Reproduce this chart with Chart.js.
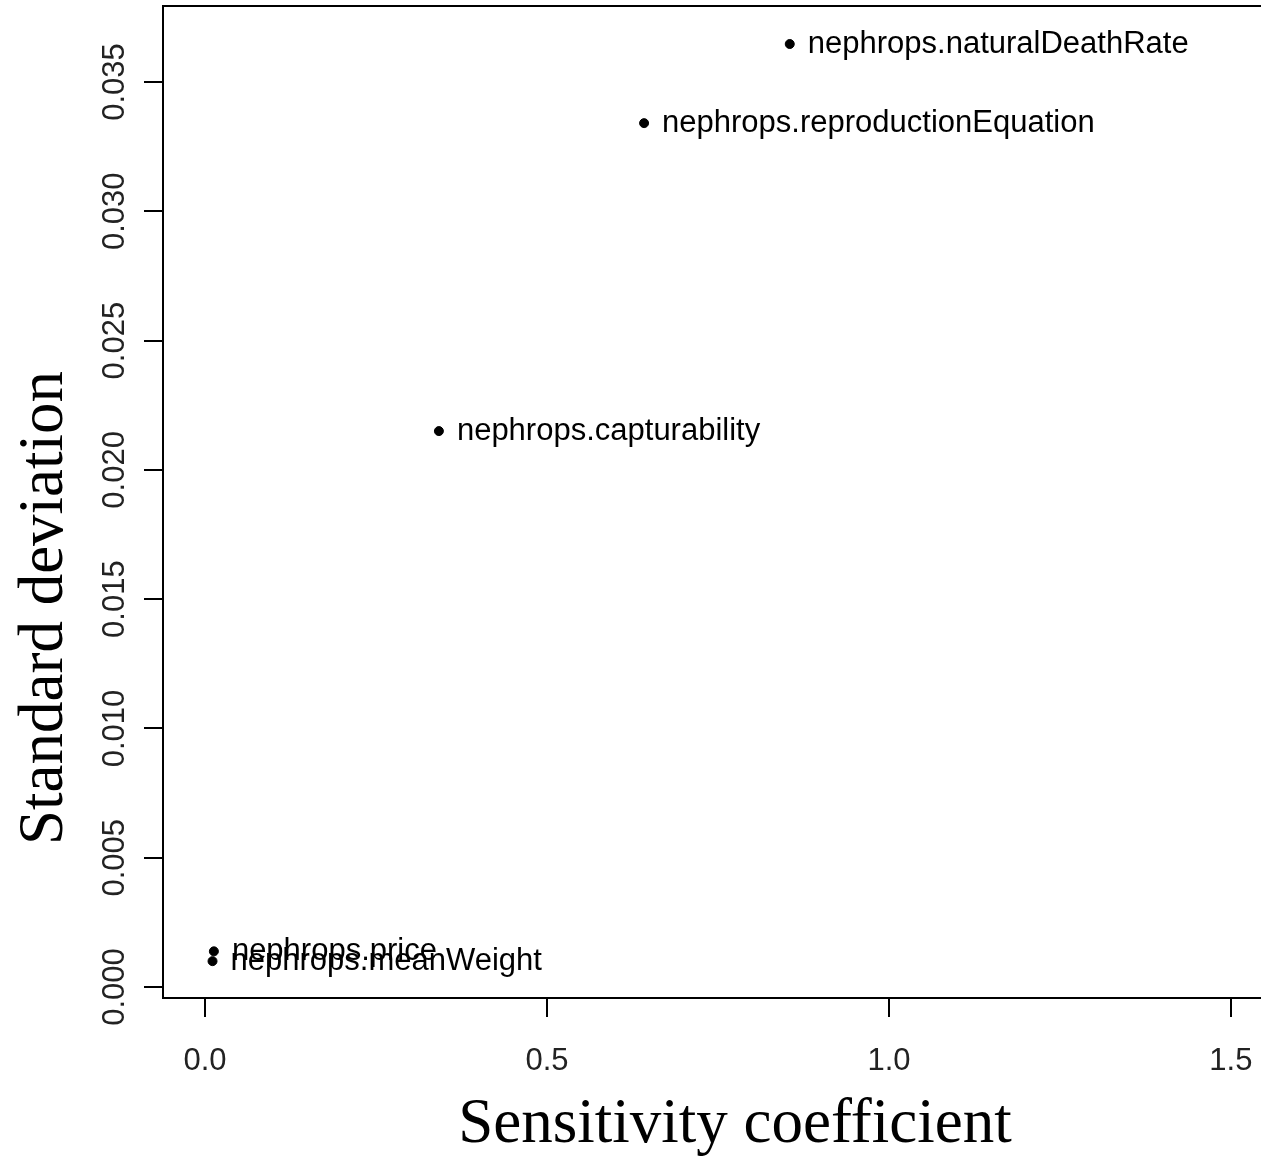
<!DOCTYPE html>
<html>
<head>
<meta charset="utf-8">
<script src="https://cdn.jsdelivr.net/npm/chart.js@4"></script>
<style>
  html, body { margin: 0; padding: 0; background: white; }
  #wrap { width: 1261px; height: 1159px; }
</style>
</head>
<body>
<div id="wrap"><canvas id="myChart"></canvas></div>
<script>
// Data
var paramNames = ['nephrops.naturalDeathRate', 'nephrops.reproductionEquation', 'nephrops.capturability', 'nephrops.price', 'nephrops.meanWeight'];
var sensitivity = [0.855, 0.642, 0.342, 0.013, 0.011];
var stdDeviation = [0.03647, 0.03341, 0.02150, 0.00138, 0.00100];

var xTicks = [0.0, 0.5, 1.0, 1.5];
var xTickLabels = ['0.0', '0.5', '1.0', '1.5'];
var yTicks = [0.000, 0.005, 0.010, 0.015, 0.020, 0.025, 0.030, 0.035];
var yTickLabels = ['0.000', '0.005', '0.010', '0.015', '0.020', '0.025', '0.030', '0.035'];

var points = sensitivity.map(function (x, i) { return { x: x, y: stdDeviation[i] }; });

// R style box, rotated y tick labels, point labels and axis titles
const rStyle = {
    id: 'rStyle',
    afterDraw: function (chart) {
        const c = chart.ctx;
        const a = chart.chartArea;
        const ys = chart.scales.y;
        c.save();
        c.strokeStyle = '#000';
        c.lineWidth = 2;
        // box, right side runs off the picture like the original
        c.strokeRect(a.left, a.top, a.right - a.left + 4, a.bottom - a.top);

        // y tick labels, rotated like R's las=0
        c.fillStyle = '#222';
        c.font = '31px "Liberation Sans", Arial, sans-serif';
        c.textAlign = 'center';
        c.textBaseline = 'middle';
        yTicks.forEach(function (v, i) {
            c.save();
            c.translate(115, ys.getPixelForValue(v));
            c.rotate(-Math.PI / 2);
            c.fillText(yTickLabels[i], 0, 0);
            c.restore();
        });

        // point labels (text pos = 4)
        c.fillStyle = '#000';
        c.textAlign = 'left';
        const meta = chart.getDatasetMeta(0);
        meta.data.forEach(function (el, i) {
            c.fillText(paramNames[i], el.x + 18, el.y);
        });

        // axis titles
        c.font = '63px "Liberation Serif", "Times New Roman", serif';
        c.textAlign = 'center';
        c.textBaseline = 'middle';
        c.fillText('Sensitivity coefficient', 735, 1125);
        c.save();
        c.translate(45, 608);
        c.rotate(-Math.PI / 2);
        c.fillText('Standard deviation', 0, 0);
        c.restore();
        c.restore();
    }
};

const ctx = document.getElementById('myChart').getContext('2d');
const myChart = new Chart(ctx, {
    type: 'scatter',
    data: {
        datasets: [{
            data: points,
            backgroundColor: '#000',
            borderColor: '#000',
            pointRadius: 4.5,
            pointHoverRadius: 4.5
        }]
    },
    options: {
        responsive: true,
        maintainAspectRatio: false,
        animation: false,
        layout: { autoPadding: false, padding: { top: 6, right: 0, left: 0, bottom: 0 } },
        plugins: {
            legend: { display: false },
            tooltip: { enabled: false }
        },
        scales: {
            x: {
                type: 'linear',
                min: -0.0614,
                max: 1.544,
                afterBuildTicks: function (s) { s.ticks = xTicks.map(function (v) { return { value: v }; }); },
                afterFit: function (s) { s.height = 161; s.paddingLeft = 0; s.paddingRight = 0; },
                border: { display: false },
                grid: { drawOnChartArea: false, tickLength: 19, color: '#000', lineWidth: 2 },
                ticks: {
                    color: '#222',
                    font: { family: '"Liberation Sans", Arial, sans-serif', size: 31 },
                    padding: 26,
                    maxRotation: 0,
                    callback: function (v) {
                        var i = xTicks.indexOf(v);
                        return i >= 0 ? xTickLabels[i] : '';
                    }
                }
            },
            y: {
                type: 'linear',
                min: -0.000425,
                max: 0.03794,
                afterBuildTicks: function (s) { s.ticks = yTicks.map(function (v) { return { value: v }; }); },
                afterFit: function (s) { s.width = 163; s.paddingTop = 0; s.paddingBottom = 0; },
                border: { display: false },
                grid: { drawOnChartArea: false, tickLength: 19, color: '#000', lineWidth: 2 },
                ticks: { display: false }
            }
        }
    },
    plugins: [rStyle]
});
</script>
</body>
</html>
